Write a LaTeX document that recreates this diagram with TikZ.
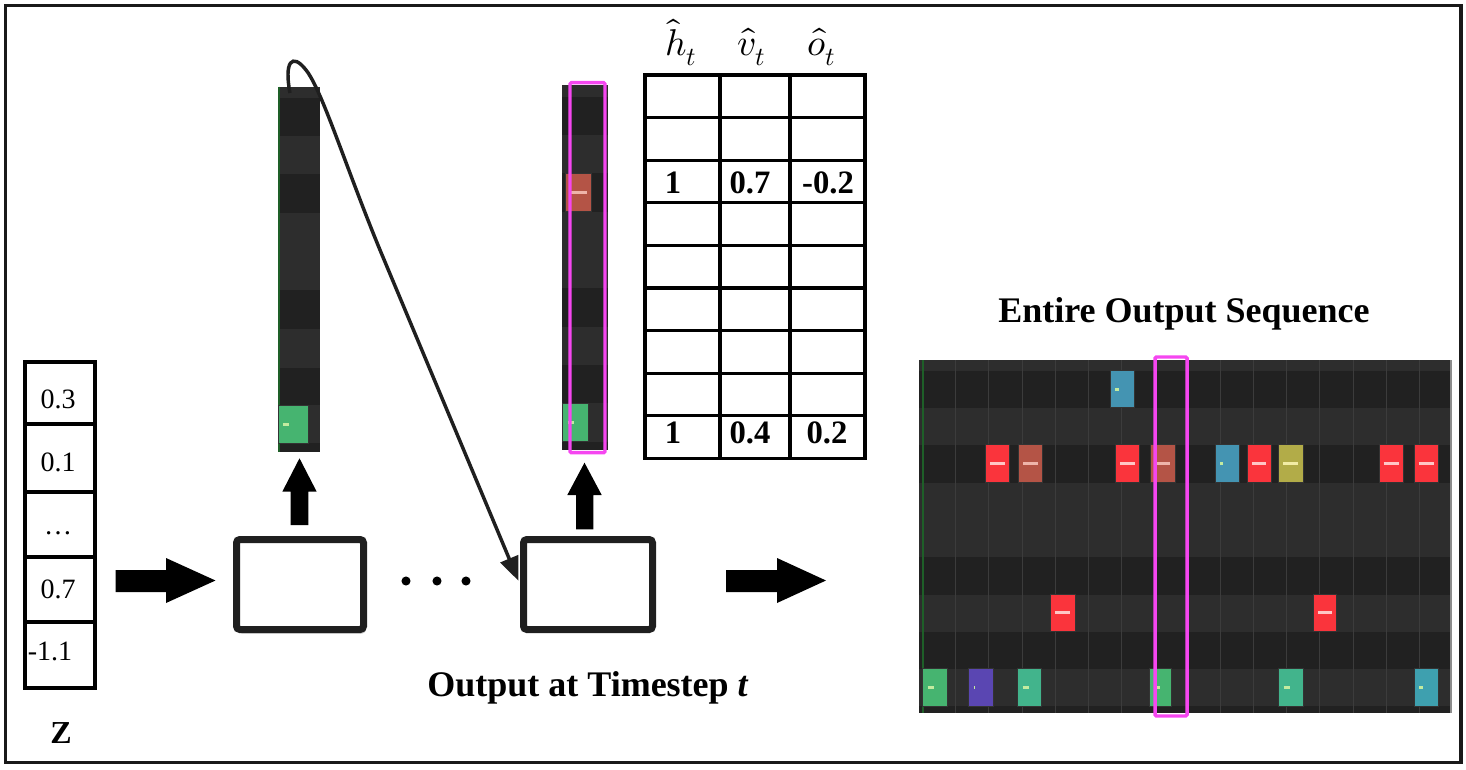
\documentclass[tikz,border=0pt]{standalone}
\usepackage{fontspec}
\usepackage{unicode-math}
\setmainfont{Liberation Serif}
\setmathfont{Latin Modern Math}
\usetikzlibrary{arrows.meta,shadows}
\definecolor{rolldark}{RGB}{33,33,33}
\definecolor{rolllight}{RGB}{45,45,45}
\definecolor{gridln}{RGB}{60,60,60}
\definecolor{nred}{RGB}{250,52,60}
\definecolor{nbrown}{RGB}{180,84,70}
\definecolor{nblue}{RGB}{68,148,178}
\definecolor{nolive}{RGB}{178,172,72}
\definecolor{ngreen}{RGB}{70,180,112}
\definecolor{npurple}{RGB}{90,70,178}
\definecolor{nteal}{RGB}{66,180,140}
\definecolor{ntealb}{RGB}{62,160,175}
\definecolor{mag}{RGB}{245,70,240}
\definecolor{rollgreen}{RGB}{30,95,40}
\definecolor{dpink}{RGB}{255,198,198}
\definecolor{dbrown}{RGB}{238,180,170}
\definecolor{dolive}{RGB}{242,236,165}
\definecolor{dgreen}{RGB}{195,235,160}
\tikzset{
  zcell/.style={font=\fontsize{21pt}{25pt}\selectfont, anchor=base, inner sep=0pt},
  tabtxt/.style={font=\bfseries\fontsize{24.5pt}{29pt}\selectfont, anchor=base, inner sep=0pt},
  hdr/.style={font=\fontsize{28pt}{32pt}\selectfont, anchor=base, inner sep=0pt},
  bigtitle/.style={font=\bfseries\fontsize{27pt}{32pt}\selectfont, anchor=base, inner sep=0pt},
  rnnbox/.style={draw=black!88, line width=5.25pt, rounded corners=2.5pt, fill=white, inner sep=0pt},
  fatarrow/.style={fill=black},
  notebox/.style={draw=black!80, line width=0.75pt},
  magbox/.style={draw=mag, line width=2.6pt, rounded corners=1pt},
  zline/.style={line width=3pt, draw=black},
  tabline/.style={line width=2.4pt, draw=black, line cap=rect},
}
\newcommand{\bands}[3]{\foreach \ya/\yb/\cc in {#3} \fill[\cc] (#1,\ya) rectangle (#2,\yb);}
\newcommand{\notelong}[6]{\draw[notebox, fill=#5] (#1,#2) rectangle (#3,#4);
  \draw[#6, line width=2.4pt] ({#1+4.5},{(#2+#4)/2}) -- ({#3-5},{(#2+#4)/2});}
\newcommand{\noteshort}[7]{\draw[notebox, fill=#5] (#1,#2) rectangle (#3,#4);
  \draw[#6, line width=2.4pt] ({#1+5},{(#2+#4)/2}) -- ({#1+5+#7},{(#2+#4)/2});}
\begin{document}
\begin{tikzpicture}[x=0.75pt,y=-0.75pt]
\useasboundingbox (0,0) rectangle (1466,770);
\draw[line width=2.6pt, draw=black!90] (5.5,5.5) rectangle (1461,762.5);

% ---- Z vector
\draw[zline] (24.7,362) rectangle (94.7,688);
\foreach \y in {424,491.5,557,621.7} \draw[zline] (24.7,\y) -- (94.7,\y);
\node[zcell] (z1) at (58,408) {0.3};
\node[zcell] (z2) at (58,471.5) {0.1};
\node[zcell] (z3) at (58,534) {…};
\node[zcell] (z4) at (58,598) {0.7};
\node[zcell, anchor=base west] (z5) at (27.5,660) {-1.1};
\node[font=\bfseries\fontsize{24pt}{28pt}\selectfont, anchor=base, inner sep=0pt] (zlab) at (61,743) {Z};

% ---- fat arrows
\fill[fatarrow] (115.5,570) -- (166,570) -- (166,558) -- (215.5,580.5) -- (166,603) -- (166,592) -- (115.5,592) -- cycle;
\fill[fatarrow] (726,570) -- (777,570) -- (777,558) -- (826,580.5) -- (777,603) -- (777,592) -- (726,592) -- cycle;
\fill[fatarrow] (290.7,525) -- (290.7,491.7) -- (282.3,491.7) -- (299.5,458.3) -- (316.7,491.7) -- (308.3,491.7) -- (308.3,525) -- cycle;
\fill[fatarrow] (576,529.3) -- (576,495) -- (567.3,495) -- (584.5,462.7) -- (601.7,495) -- (593.3,495) -- (593.3,529.3) -- cycle;

% ---- RNN boxes
\node[rnnbox, minimum width=95.25pt, minimum height=67.5pt,
      drop shadow={shadow xshift=1.5pt, shadow yshift=-3pt, opacity=0.22, fill=black}] (box1) at (300,584.5) {};
\node[rnnbox, minimum width=96.75pt, minimum height=67.5pt] (box2) at (588,584.5) {};
\foreach \x in {406,437,466} \fill (\x,581) circle[radius=3.4pt];

% ---- left strip
\bands{278.3}{320}{86.7/98/rolllight, 98/136/rolldark, 136/174/rolllight, 174/213/rolldark, 213/252/rolllight, 252/290/rolllight, 290/329/rolldark, 329/368/rolllight, 368/405/rolldark, 405/443/rolllight, 443/452/rolldark}
\draw[rollgreen, line width=1.6pt] (279.4,86.7) -- (279.4,452);
\noteshort{278.3}{405}{308.3}{443.3}{ngreen}{dgreen}{6}

% ---- middle strip
\bands{561.7}{608.3}{85/97/rolllight, 97/135/rolldark, 135/173/rolllight, 173/212/rolldark, 212/250/rolllight, 250/288/rolllight, 288/327/rolldark, 327/365/rolllight, 365/403/rolldark, 403/442/rolllight, 442/450/rolldark}
\notelong{565}{173.3}{591.7}{211.7}{nbrown}{dbrown}
\noteshort{562.7}{403.3}{588.3}{441.7}{ngreen}{dgreen}{6}
\draw[magbox] (570,82.7) rectangle (605,452.7);

% ---- table
\foreach \x in {645,720,790,865} \draw[tabline] (\x,75) -- (\x,458.4);
\foreach \i in {0,...,9} \draw[tabline] (645,{75+42.6*\i}) -- (865,{75+42.6*\i});
\node[hdr] (hh) at (681,56) {$\hat{h}_t$};
\node[hdr] (hv) at (751.7,56) {$\hat{v}_t$};
\node[hdr] (ho) at (821.7,56) {$\hat{o}_t$};
\node[tabtxt] (a1) at (673,193.3) {1};
\node[tabtxt] (a2) at (750,193.3) {0.7};
\node[tabtxt] (a3) at (828,193.3) {-0.2};
\node[tabtxt] (b1) at (673,443.3) {1};
\node[tabtxt] (b2) at (750,443.3) {0.4};
\node[tabtxt] (b3) at (827,443.3) {0.2};

% ---- curved connector
\coordinate (cstart) at (290,93);
\draw[line width=2.6pt, black!88, -{Triangle[length=18pt,width=14pt]}, shorten >=3pt]
  (cstart) .. controls (284,62) and (292,52) .. (306,70)
  .. controls (322,90) and (345,165) .. (380,250) -- (box2.west);

% ---- titles
\node[bigtitle] (ttitle) at (588,696) {Output at Timestep \textit{t}};
\node[bigtitle] (seqtitle) at (1184,322) {Entire Output Sequence};

% ---- entire piano roll
\bands{919}{1452}{360/370.7/rolllight, 370.7/408/rolldark, 408/445/rolllight, 445/483/rolldark, 483/520/rolllight, 520/557/rolllight, 557/595/rolldark, 595/632/rolllight, 632/669/rolldark, 669/706/rolllight, 706/713/rolldark}
\foreach \k in {1,...,15} \draw[gridln, line width=0.75pt] ({922.7+33.1*\k},360) -- ++(0,353);
\draw[rollgreen, line width=1.5pt] (922.7,360) -- (922.7,713);
\draw[black!45, line width=1.2pt] (1451,360) -- (1451,713);
% row top
\noteshort{1110.3}{370.5}{1134.6}{407.7}{nblue}{dgreen}{4}
% red row
\notelong{985.8}{444.5}{1009.8}{482.5}{nred}{dpink}
\notelong{1018.6}{444.5}{1042.9}{482.5}{nbrown}{dbrown}
\notelong{1115.6}{444.5}{1139.9}{482.5}{nred}{dpink}
\notelong{1150.8}{444.5}{1175.2}{482.5}{nbrown}{dbrown}
\noteshort{1215}{444.5}{1239}{482.5}{nblue}{dgreen}{2.5}
\notelong{1247.4}{444.5}{1271.4}{482.5}{nred}{dpink}
\notelong{1278.5}{444.5}{1303.2}{482.5}{nolive}{dolive}
\notelong{1379}{444.5}{1403.6}{482.5}{nred}{dpink}
\notelong{1414.2}{444.5}{1438.9}{482.5}{nred}{dpink}
% second red row
\notelong{1050.3}{594}{1075}{631.5}{nred}{dpink}
\notelong{1313}{594}{1336.7}{631.5}{nred}{dpink}
% bottom row
\noteshort{922.7}{668.5}{947}{706}{ngreen}{dgreen}{6}
\noteshort{968.9}{668.5}{993.6}{706}{npurple}{dgreen}{0.6}
\noteshort{1017.5}{668.5}{1041.5}{706}{nteal}{dgreen}{6}
\noteshort{1149}{668.5}{1171.6}{706}{ngreen}{dgreen}{6}
\noteshort{1278.5}{668.5}{1303.2}{706}{nteal}{dgreen}{6}
\noteshort{1414.2}{668.5}{1438.9}{706}{ntealb}{dgreen}{4}
\draw[magbox] (1155,357) rectangle (1187,716);
\end{tikzpicture}
\end{document}
